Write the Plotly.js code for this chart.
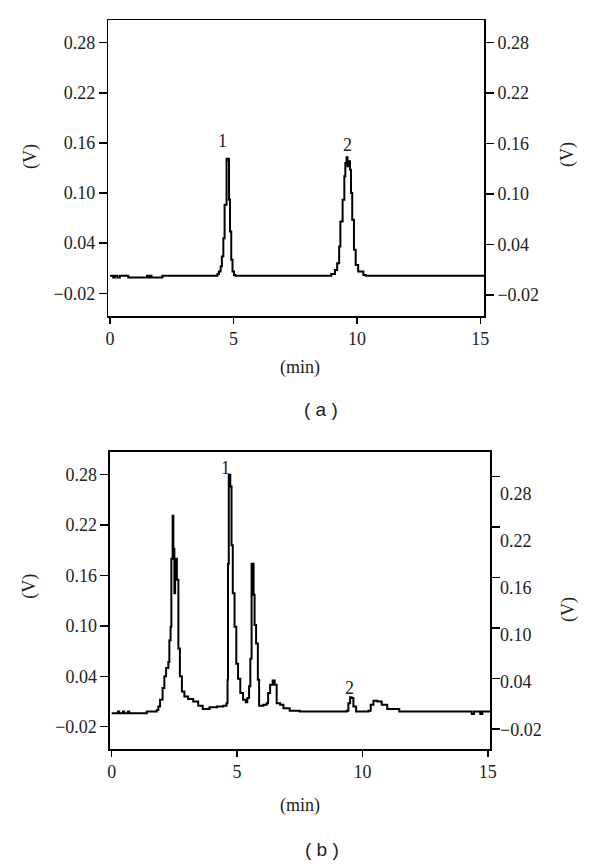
<!DOCTYPE html>
<html>
<head>
<meta charset="utf-8">
<script src="https://cdn.plot.ly/plotly-3.0.1.min.js"></script>
<style>html,body{margin:0;padding:0;background:#fff;}#chart{width:600px;height:866px;}</style>
</head>
<body>
<div id="chart"></div>
<script>
// Panel (a): standard chromatogram
const timeA = [0, 0.13, 0.2, 0.3, 0.4, 0.74, 1.5, 1.55, 1.62, 1.68, 2.12, 4.35, 4.41, 4.48, 4.53, 4.59, 4.64, 4.72, 4.75, 4.78, 4.82, 4.86, 4.91, 4.96, 5.02, 5.08,
  8.84, 8.96, 9.11, 9.2, 9.28, 9.33, 9.42, 9.49, 9.53, 9.58, 9.62, 9.66, 9.72, 9.76, 9.81, 9.88, 9.95, 10.05, 10.26, 10.36, 15.16];
const voltA = [0.001, -0.001, 0.001, -0.001, 0.001, -0.001, 0.001, -0.001, 0.001, -0.001, 0.001, 0.003, 0.006, 0.012, 0.024, 0.046, 0.086, 0.141, 0.139, 0.141, 0.092, 0.054, 0.02, 0.006, 0.002, 0.001,
  0.001, 0.003, 0.008, 0.016, 0.036, 0.066, 0.092, 0.12, 0.136, 0.143, 0.132, 0.138, 0.128, 0.1, 0.068, 0.032, 0.014, 0.006, 0.002, 0.001, 0.001];

// Panel (b): sample chromatogram
const timeB = [0, 0.25, 0.3, 0.45, 0.5, 0.65, 0.7, 1.4, 1.8, 1.86, 1.93, 2.03, 2.1, 2.17, 2.26, 2.3, 2.35, 2.38, 2.43, 2.46, 2.5, 2.53, 2.6, 2.66, 2.72, 2.8, 2.9, 3.05, 3.25, 3.45, 3.63, 3.9, 4.2, 4.45, 4.58,
  4.62, 4.64, 4.67, 4.73, 4.78, 4.83, 4.9, 4.97, 5.04, 5.13, 5.24, 5.35, 5.41, 5.48, 5.53, 5.58, 5.66, 5.7, 5.76, 5.83, 5.88, 6.05, 6.18, 6.24, 6.32, 6.42, 6.5, 6.58, 6.72, 6.85, 7.1, 7.5,
  9.37, 9.44, 9.51, 9.57, 9.64, 9.75, 10.24, 10.33, 10.44, 10.6, 10.77, 10.99, 11.47, 14.36, 14.45, 14.7, 14.78, 15.09];
const voltB = [-0.004, -0.002, -0.004, -0.002, -0.004, -0.002, -0.004, -0.002, 0.0, 0.004, 0.012, 0.026, 0.04, 0.05, 0.057, 0.083, 0.099, 0.18, 0.231, 0.192, 0.139, 0.18, 0.155, 0.073, 0.04, 0.022, 0.016, 0.013, 0.01, 0.005, 0.001, 0.003, 0.004, 0.005, 0.008,
  0.036, 0.174, 0.28, 0.266, 0.196, 0.139, 0.099, 0.055, 0.037, 0.02, 0.012, 0.009, 0.014, 0.028, 0.061, 0.174, 0.137, 0.101, 0.079, 0.036, 0.005, 0.006, 0.008, 0.02, 0.03, 0.035, 0.03, 0.008, 0.006, 0.002, -0.001, -0.002,
  -0.001, 0.008, 0.015, 0.014, 0.004, -0.002, -0.001, 0.006, 0.011, 0.01, 0.006, 0.001, -0.002, -0.005, -0.002, -0.005, -0.002, -0.002];

const xTicks = [0, 5, 10, 15];
const xTickText = ['0', '5', '10', '15'];
const yTicks = [-0.02, 0.04, 0.10, 0.16, 0.22, 0.28];
const yTickText = ['\u22120.02', '0.04', '0.10', '0.16', '0.22', '0.28'];

const serif = 'Liberation Serif';
const sans = 'Liberation Sans';
const tickFont = {family: serif, size: 18, color: '#222'};

const lineStyle = {color: '#000', width: 2, shape: 'hv'};
const traces = [
  {x: timeA, y: voltA, xaxis: 'x', yaxis: 'y', mode: 'lines', line: lineStyle, hoverinfo: 'skip'},
  {x: [], y: [], xaxis: 'x', yaxis: 'y2', mode: 'lines', hoverinfo: 'skip'},
  {x: timeB, y: voltB, xaxis: 'x2', yaxis: 'y3', mode: 'lines', line: lineStyle, hoverinfo: 'skip'},
  {x: [], y: [], xaxis: 'x2', yaxis: 'y4', mode: 'lines', hoverinfo: 'skip'},
  {x: [], y: [], xaxis: 'x2', yaxis: 'y5', mode: 'lines', hoverinfo: 'skip'}
];

const baseX = {tickmode: 'array', tickvals: xTicks, ticktext: xTickText, ticks: 'outside', ticklen: 6, tickwidth: 1.5,
  tickcolor: '#000', showline: true, linecolor: '#000', linewidth: 1.5, mirror: true, showgrid: false, zeroline: false,
  tickfont: tickFont, fixedrange: true};
const baseY = {tickmode: 'array', tickvals: yTicks, ticktext: yTickText, ticks: 'outside', ticklen: 8, tickwidth: 1.5,
  tickcolor: '#000', showline: true, linecolor: '#000', linewidth: 1.5, showgrid: false, zeroline: false,
  tickfont: tickFont, fixedrange: true};

const layout = {
  width: 600, height: 866,
  margin: {l: 0, r: 0, t: 0, b: 0},
  paper_bgcolor: '#fff', plot_bgcolor: '#fff',
  showlegend: false,
  xaxis: Object.assign({}, baseX, {domain: [0.1805, 0.8072], anchor: 'y', range: [-0.07, 15.16]}),
  yaxis: Object.assign({}, baseY, {domain: [0.6351, 0.9769], anchor: 'x', range: [-0.0472, 0.3072]}),
  yaxis2: Object.assign({}, baseY, {overlaying: 'y', side: 'right', anchor: 'x', range: [-0.045, 0.307]}),
  xaxis2: Object.assign({}, baseX, {domain: [0.1833, 0.8167], anchor: 'y3', range: [-0.068, 15.09]}),
  yaxis3: Object.assign({}, baseY, {domain: [0.1348, 0.4784], anchor: 'x2', range: [-0.0469, 0.3074]}),
  yaxis4: Object.assign({}, baseY, {overlaying: 'y3', side: 'right', anchor: 'x2', range: [-0.0438, 0.3097], showticklabels: false}),
  yaxis5: Object.assign({}, baseY, {overlaying: 'y3', side: 'right', anchor: 'x2', range: [-0.0454, 0.3329], ticks: '', showline: false, ticklabelstandoff: 9}),
  annotations: [
    {xref: 'x', yref: 'y', x: 4.56, y: 0.1625, text: '1', showarrow: false, font: tickFont, xanchor: 'center', yanchor: 'middle'},
    {xref: 'x', yref: 'y', x: 9.62, y: 0.158, text: '2', showarrow: false, font: tickFont, xanchor: 'center', yanchor: 'middle'},
    {xref: 'x2', yref: 'y3', x: 4.55, y: 0.2876, text: '1', showarrow: false, font: tickFont, xanchor: 'center', yanchor: 'middle'},
    {xref: 'x2', yref: 'y3', x: 9.5, y: 0.026, text: '2', showarrow: false, font: tickFont, xanchor: 'center', yanchor: 'middle'},
    {xref: 'paper', yref: 'paper', x: 0.05, y: 0.8187, text: '(V)', textangle: -90, showarrow: false, font: tickFont, xanchor: 'center', yanchor: 'middle'},
    {xref: 'paper', yref: 'paper', x: 0.945, y: 0.821, text: '(V)', textangle: -90, showarrow: false, font: tickFont, xanchor: 'center', yanchor: 'middle'},
    {xref: 'paper', yref: 'paper', x: 0.05, y: 0.3225, text: '(V)', textangle: -90, showarrow: false, font: tickFont, xanchor: 'center', yanchor: 'middle'},
    {xref: 'paper', yref: 'paper', x: 0.9467, y: 0.2956, text: '(V)', textangle: -90, showarrow: false, font: tickFont, xanchor: 'center', yanchor: 'middle'},
    {xref: 'paper', yref: 'paper', x: 0.5, y: 0.5762, text: '(min)', showarrow: false, font: tickFont, xanchor: 'center', yanchor: 'middle'},
    {xref: 'paper', yref: 'paper', x: 0.5, y: 0.0704, text: '(min)', showarrow: false, font: tickFont, xanchor: 'center', yanchor: 'middle'},
    {xref: 'paper', yref: 'paper', x: 0.535, y: 0.5266, text: '( a )', showarrow: false, font: {family: sans, size: 19, color: '#222'}, xanchor: 'center', yanchor: 'middle'},
    {xref: 'paper', yref: 'paper', x: 0.5367, y: 0.0185, text: '( b )', showarrow: false, font: {family: sans, size: 19, color: '#222'}, xanchor: 'center', yanchor: 'middle'}
  ]
};

Plotly.newPlot('chart', traces, layout, {staticPlot: true, displayModeBar: false});
</script>
</body>
</html>
